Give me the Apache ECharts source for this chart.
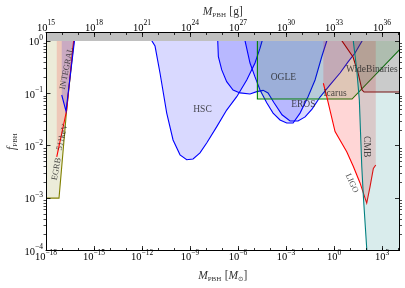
<!DOCTYPE html>
<html><head><meta charset="utf-8">
<script src="https://cdn.jsdelivr.net/npm/echarts@6/dist/echarts.min.js"></script>
<style>html,body{margin:0;padding:0;background:#fff}#c{width:405px;height:288px}</style>
</head><body><div id="c"></div>
<script>
// ---- data (M in solar masses, f = f_PBH) ----
const EGRB = [[1.07e-18,1e-3],[6.5e-18,1e-3],[1.95e-17,0.048],[5.6e-17,1.0],[7e-17,1.8]];
const keV511 = [[4.7e-18,6.1e-3],[1.94e-17,0.047],[5.3e-17,1.0],[6.2e-17,1.6]];
const INTEGRAL = [[9.6e-18,0.093],[1.78e-17,0.046],[6e-17,1.0],[7e-17,1.6]];
const HSC = [[4.0e-12,1.6],[4.2e-12,1.0],[6.5e-12,0.80],[1.33e-11,0.245],[3.5e-11,0.042],[8.7e-11,0.0129],
  [2.37e-10,6.7e-3],[6.2e-10,5.4e-3],[1.55e-9,5.6e-3],[4.2e-9,7.3e-3],[1.1e-8,0.0113],[4.7e-8,0.0232],
  [1.95e-7,0.048],[8.3e-7,0.0865],[3.5e-6,0.18],[1.15e-5,0.38],[2.37e-5,0.73],[3.2e-5,1.0],[3.5e-5,1.3]];
const EROS = [[5.4e-8,1.3],[5.4e-8,1.0],[5.9e-8,0.50],[9.6e-8,0.28],[1.95e-7,0.167],[4.9e-7,0.116],
  [1.33e-6,0.102],[5.6e-6,0.0975],[1.48e-5,0.108],[3.7e-5,0.114],[7.5e-5,0.102],[1.78e-4,0.066],
  [5.6e-4,0.039],[1.78e-3,0.0297],[5.6e-3,0.0297],[0.0155,0.0355],[0.042,0.05],[0.133,0.085],
  [0.56,0.145],[2.37,0.245],[7.5,0.40],[20.5,0.59],[56,1.0],[75,1.3]];
const OGLE = [[2.75e-6,1.3],[2.75e-6,1.0],[5.6e-6,0.38],[1.15e-5,0.206],[2.37e-5,0.116],[6.2e-5,0.066],
  [1.55e-4,0.042],[4.2e-4,0.031],[1.1e-3,0.0272],[2.75e-3,0.0272],[7.5e-3,0.042],[0.0237,0.0865],
  [0.065,0.18],[0.17,0.50],[0.35,1.0],[0.42,1.3]];
const Icarus = [[1.62e-5,2],[1.62e-5,0.078],[13.3,0.078],[1.33e4,0.70],[1e5,1.4]];
const WideBinaries = [[2.9,1.4],[3.16,1.0],[15.4,0.495],[31.6,0.245],[56,0.116],[75,0.106],[1e5,0.106]];
const LIGO = [[0.214,0.156],[0.35,0.0865],[1.155,0.0186],[6.2,7.7e-3],[16.1,4.0e-3],[42,1.95e-3],
  [110,8.0e-4],[178,1.66e-3],[286,3.7e-3],[404,4.3e-3]];
const CMB = [[15.4,1.5],[16.1,0.97],[26.3,0.28],[38,0.075],[54,4.0e-3],[68,1.07e-3],[110,1.1e-4],
  [150,3e-5],[1e6,1e-6]];
const unphysical = [[1e-19,1],[1e6,1]];
// labels: [text, M, f, rotation]
const labelsTxt = [
  ['EGRB',4.6e-18,3.6e-3,80],['511keV',1.05e-17,0.0145,77],['INTEGRAL',1.95e-17,0.30,79],
  ['HSC',6e-9,0.05,0],['OGLE',6.8e-4,0.2,0],['EROS',0.012,0.061,0],['Icarus',1.155,0.1,0],
  ['WideBinaries',229,0.29,0],['CMB',110,9.6e-3,-90],['LIGO',12.8,1.92e-3,-65]];
// ---- style ----
const styles = {
  EGRB:['#808000','rgba(128,128,0,0.15)'], keV511:['#ff0000','rgba(255,0,0,0.15)'],
  INTEGRAL:['#0000ff','rgba(0,0,255,0.15)'], HSC:['#0000ff','rgba(0,0,255,0.15)'],
  EROS:['#0000ff','rgba(0,0,255,0.15)'], OGLE:['#0000ff','rgba(0,0,255,0.15)'],
  Icarus:['#008000','rgba(0,128,0,0.15)'], WideBinaries:['#8b0000','rgba(139,0,0,0.15)'],
  LIGO:['#ff0000','rgba(255,0,0,0.16)'], CMB:['#008080','rgba(0,128,128,0.15)']
};
const XMIN = 1e-18, XMAXLOG = 4.09, XMAX = Math.pow(10, XMAXLOG);
const YMIN = 1e-4, YTOPLOG = 0.162, YMAX = Math.pow(10, YTOPLOG);
const GSHIFT = 33;
const TOP = 100;
const GRID = {left:46, right:5.5, top:32.5, bottom:37.5};
const plotH = 288 - GRID.top - GRID.bottom;
const gridBTop = GRID.top + plotH * YTOPLOG / (4 + YTOPLOG);
const FONT = 'Liberation Serif';

function polySeries(name, pts, stroke, fill, z, lw) {
  return {
    type:'custom', name, xAxisIndex:0, yAxisIndex:0, data:[pts[0]], clip:true, silent:true, z,
    renderItem:function(params, api){
      const coords = pts.map(p => api.coord(p));
      const ch = [];
      if (fill) {
        const a = pts[0], b = pts[pts.length-1];
        ch.push({type:'polygon', shape:{points:coords.concat([api.coord([b[0],TOP]), api.coord([a[0],TOP])])},
          style:{fill:fill, stroke:null}});
      }
      if (stroke) ch.push({type:'polyline', shape:{points:coords}, style:{stroke:stroke, lineWidth:lw||1.1, fill:null}});
      return {type:'group', children:ch};
    }
  };
}
function powLabel(v){
  const e = Math.log10(v), r = Math.round(e);
  if (Math.abs(e-r) > 1e-6) return '';
  return '{b|10}{s|' + (r<0 ? '\u2212' + (-r) : r) + '}';
}
const rich = {
  b:{fontFamily:FONT, fontSize:10.5, color:'#000', verticalAlign:'bottom', lineHeight:14},
  s:{fontFamily:FONT, fontSize:7.5, color:'#000', verticalAlign:'top', lineHeight:8}
};
const nameRich = {
  i:{fontFamily:FONT, fontStyle:'italic', fontSize:11.5, color:'#333', verticalAlign:'top', lineHeight:13},
  r:{fontFamily:FONT, fontSize:11.5, color:'#333', verticalAlign:'top', lineHeight:13},
  u:{fontFamily:FONT, fontSize:7, color:'#333', verticalAlign:'bottom', lineHeight:13},
  o:{fontFamily:'DejaVu Sans', fontSize:6.5, color:'#333', verticalAlign:'bottom', lineHeight:13}
};
const lineBlack = {show:true, lineStyle:{color:'#000', width:1}};
function xAx(pos, min, max, interval, labels, len, margin, extra){
  return Object.assign({type:'log', gridIndex:0, position:pos, min, max, interval, z:6, nameMoveOverlap:false,
    axisLine: labels ? lineBlack : {show:false},
    axisTick:{show:true, inside:true, length:len, lineStyle:{color:'#000', width:0.8}},
    axisLabel: labels ? {show:true, formatter:powLabel, rich, margin:margin} : {show:false},
    splitLine:{show:false}, minorTick:{show:false}}, extra||{});
}
const xAxes = [
  xAx('bottom', XMIN, XMAX, 3, true, 4.5, -1.5, {name:'{i|M}{u|PBH} {r|[}{i|M}{o|\u2299}{r|]}', nameLocation:'middle', nameGap:19, nameTextStyle:{rich:nameRich}}),
  xAx('bottom', XMIN, XMAX, 1, false, 2.5, 0),
  xAx('top', Math.pow(10,-18+GSHIFT), Math.pow(10,XMAXLOG+GSHIFT), 3, true, 4.5, -1, {name:'{i|M}{u|PBH} {r|[g]}', nameLocation:'middle', nameGap:14, nameTextStyle:{rich:nameRich}}),
  xAx('top', Math.pow(10,-18+GSHIFT), Math.pow(10,XMAXLOG+GSHIFT), 1, false, 2.5, 0),
  {type:'log', gridIndex:1, min:XMIN, max:XMAX, show:false}
];
const yAxes = [
  {type:'log', gridIndex:0, position:'left', min:YMIN, max:YMAX, interval:1, z:6, axisLine:lineBlack, nameMoveOverlap:false,
   axisTick:{show:true, inside:true, length:4.5, lineStyle:{color:'#000', width:0.8}},
   axisLabel:{show:true, formatter:powLabel, rich, margin:3}, splitLine:{show:false},
   name:'{i|f}{u|PBH}', nameLocation:'middle', nameGap:27, nameRotate:90, nameTextStyle:{rich:nameRich}},
  {type:'log', gridIndex:0, position:'right', min:YMIN, max:YMAX, interval:1, z:6, axisLine:lineBlack,
   axisTick:{show:true, inside:true, length:4.5, lineStyle:{color:'#000', width:0.8}},
   axisLabel:{show:false}, splitLine:{show:false}},
  {type:'log', gridIndex:1, position:'left', min:YMIN, max:1, interval:1, z:6, axisLine:{show:false},
   axisTick:{show:false}, axisLabel:{show:false}, splitLine:{show:false},
   minorTick:{show:true, splitNumber:9, length:2.5, lineStyle:{color:'#000', width:0.7}}},
  {type:'log', gridIndex:1, position:'right', min:YMIN, max:1, interval:1, z:6, axisLine:{show:false},
   axisTick:{show:false}, axisLabel:{show:false}, splitLine:{show:false},
   minorTick:{show:true, splitNumber:9, length:2.5, lineStyle:{color:'#000', width:0.7}}}
];
const series = [
  polySeries('EGRB', EGRB, ...styles.EGRB, 2),
  polySeries('511keV', keV511, ...styles.keV511, 2),
  polySeries('INTEGRAL', INTEGRAL, ...styles.INTEGRAL, 2),
  polySeries('HSC', HSC, ...styles.HSC, 2),
  polySeries('EROS', EROS, ...styles.EROS, 2),
  polySeries('OGLE', OGLE, ...styles.OGLE, 2),
  polySeries('Icarus', Icarus, ...styles.Icarus, 2),
  polySeries('WideBinaries', WideBinaries, ...styles.WideBinaries, 2),
  polySeries('LIGO', LIGO, ...styles.LIGO, 2),
  polySeries('CMB', CMB, ...styles.CMB, 2),
  polySeries('unphysical', unphysical, null, '#c0c0c0', 4),
  {type:'scatter', xAxisIndex:0, yAxisIndex:0, z:5, silent:true, symbolSize:1,
   itemStyle:{color:'rgba(0,0,0,0)'},
   data: labelsTxt.map(t => ({value:[t[1],t[2]], label:{show:true, position:'inside', formatter:t[0], rotate:t[3],
     fontFamily:FONT, fontSize:(t[3]!==0 && t[3]!==-90) ? 8.5 : 9.5, color:'#222'}}))}
];
const chart = echarts.init(document.getElementById('c'), null, {renderer:'canvas'});
const gridBase = {outerBoundsMode:'none', containLabel:false};
chart.setOption({
  animation:false, backgroundColor:'#fff',
  grid:[Object.assign({}, gridBase, GRID), Object.assign({}, gridBase, {left:GRID.left, right:GRID.right, top:gridBTop, bottom:GRID.bottom})],
  xAxis:xAxes, yAxis:yAxes, series
});
</script></body></html>
